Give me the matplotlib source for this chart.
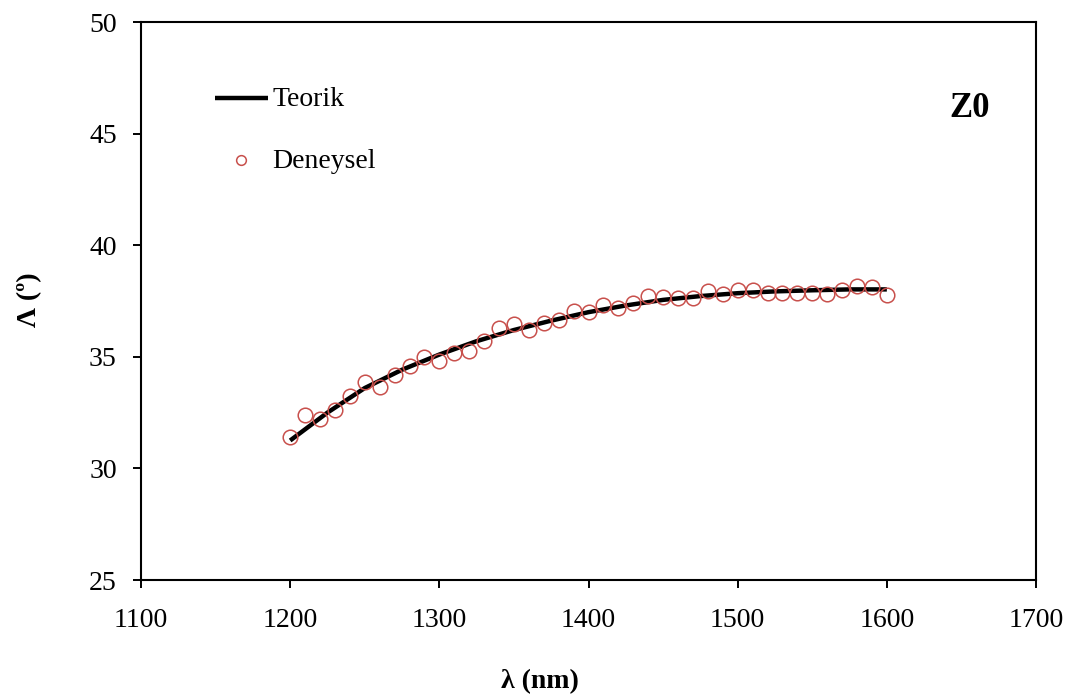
import matplotlib
matplotlib.use("Agg")
import matplotlib.pyplot as plt
import numpy as np

# Experimental data (Deneysel)
wl_exp = [1200, 1210, 1220, 1230, 1240, 1250, 1260, 1270, 1280, 1290,
          1300, 1310, 1320, 1330, 1340, 1350, 1360, 1370, 1380, 1390,
          1400, 1410, 1420, 1430, 1440, 1450, 1460, 1470, 1480, 1490,
          1500, 1510, 1520, 1530, 1540, 1550, 1560, 1570, 1580, 1590, 1600]
delta_exp = [31.41, 32.39, 32.20, 32.60, 33.24, 33.87, 33.65, 34.20, 34.60, 35.00,
             34.80, 35.17, 35.26, 35.70, 36.29, 36.47, 36.20, 36.50, 36.65, 37.05,
             37.00, 37.30, 37.20, 37.40, 37.72, 37.68, 37.63, 37.63, 37.95, 37.80,
             37.99, 37.99, 37.86, 37.86, 37.86, 37.86, 37.80, 38.00, 38.17, 38.13, 37.77]

# Theoretical curve (Teorik)
wl_th = [1200, 1225, 1250, 1275, 1300, 1325, 1350, 1375, 1400, 1425,
         1450, 1475, 1500, 1525, 1550, 1575, 1600]
delta_th = [31.25, 32.50, 33.60, 34.42, 35.10, 35.70, 36.20, 36.62, 37.00, 37.30,
            37.55, 37.72, 37.85, 37.93, 37.98, 38.02, 38.02]

xticks = [1100, 1200, 1300, 1400, 1500, 1600, 1700]
yticks = [25, 30, 35, 40, 45, 50]

plt.rcParams['font.family'] = ['Liberation Serif', 'DejaVu Serif']
FS = 20
red = '#C8504C'

fig = plt.figure(figsize=(10.72, 6.97), dpi=100)
ax = fig.add_axes([141/1072, 1-580/697, (1036-141)/1072, (580-22)/697])

ax.plot(wl_th, delta_th, color='black', lw=3.2, solid_capstyle='butt', zorder=2)
ax.plot(wl_exp, delta_exp, linestyle='none', marker='o', markersize=10.5,
        markerfacecolor='none', markeredgecolor=red, markeredgewidth=1.1, zorder=3)

ax.set_xlim(1100, 1700)
ax.set_ylim(25, 50)
ax.set_xticks(xticks)
ax.set_yticks(yticks)
ax.tick_params(axis='both', direction='out', length=5.5, width=1.4, labelsize=FS)
ax.tick_params(axis='y', pad=12)
ax.tick_params(axis='x', pad=15)
for s in ax.spines.values():
    s.set_linewidth(1.5)

# Manual legend
ax.plot([0.0827, 0.1419], [0.8638, 0.8638], transform=ax.transAxes, color='black',
        lw=3.2, solid_capstyle='butt', clip_on=False)
ax.text(0.1464, 0.862, 'Teorik', transform=ax.transAxes, fontsize=FS,
        va='center', ha='left')
ax.plot([0.1117], [0.7527], transform=ax.transAxes, marker='o', markersize=7,
        markerfacecolor='none', markeredgecolor=red, markeredgewidth=1.1, clip_on=False)
ax.text(0.1464, 0.750, 'Deneysel', transform=ax.transAxes, fontsize=FS,
        va='center', ha='left')

ax.text(0.926, 0.845, 'Z0', transform=ax.transAxes, fontsize=25,
        fontweight='bold', va='center', ha='center')

fig.text(30/1072, 1-300/697, 'Λ (º)', rotation=90, fontsize=FS, fontweight='bold',
         va='center', ha='center')
fig.text(540/1072, 1-682/697, 'λ (nm)', fontsize=FS, fontweight='bold',
         va='center', ha='center')

fig.savefig('out.png', dpi=100)
